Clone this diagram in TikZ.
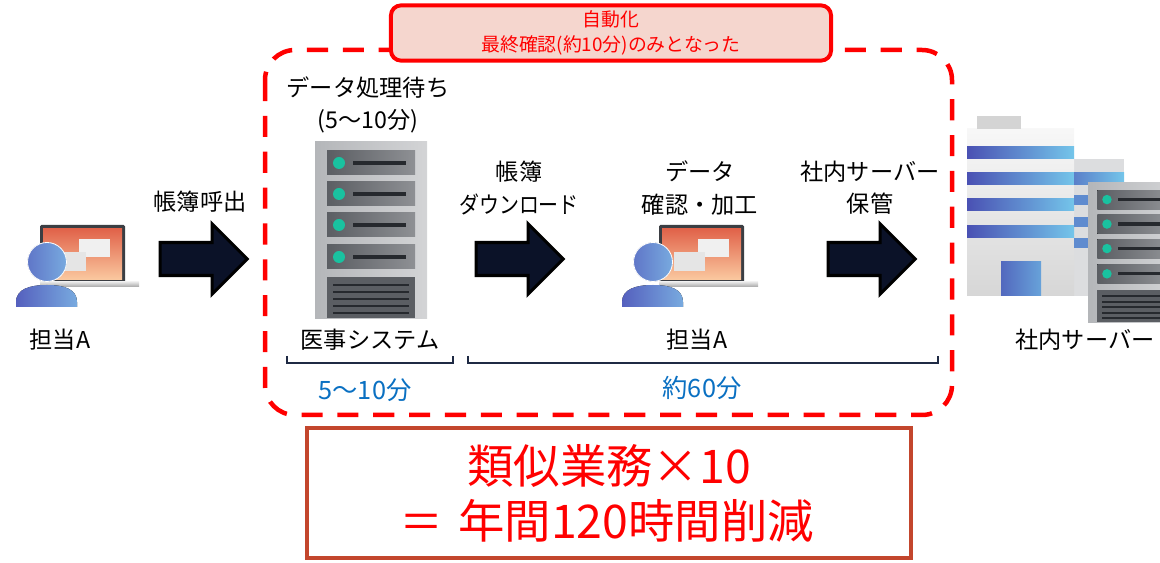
\documentclass[tikz,border=0pt]{standalone}
\usepackage{fontspec}
\setmainfont{Noto Sans CJK JP}
\usetikzlibrary{shapes.arrows, positioning}

% colours
\definecolor{zonered}{HTML}{FF0000}
\definecolor{notefill}{HTML}{F5D6CE}
\definecolor{resultedge}{HTML}{C3462D}
\definecolor{timeblue}{HTML}{0A70C2}
\definecolor{arrowfill}{HTML}{0B1228}
\definecolor{braceline}{HTML}{1F2A44}
\definecolor{rackbody}{HTML}{B4B6B9}
\definecolor{rackbodylight}{HTML}{D3D4D6}
\definecolor{rackslot}{HTML}{5B5E63}
\definecolor{rackslotlight}{HTML}{8E9094}
\definecolor{rackled}{HTML}{19C2A0}
\definecolor{rackbar}{HTML}{26292E}
\definecolor{screentop}{HTML}{E1634A}
\definecolor{screenbottom}{HTML}{FAC9A0}
\definecolor{framegray}{HTML}{3B3E43}
\definecolor{userdark}{HTML}{5560BE}
\definecolor{userlight}{HTML}{78AADF}
\definecolor{stripedark}{HTML}{4A51B3}
\definecolor{stripelight}{HTML}{74C5EA}
\definecolor{wallgray}{HTML}{DCDDDF}

\tikzset{
  % laptop with two windows on the screen
  laptop/.pic={
    \fill[framegray, rounded corners=1pt] (0,0) rectangle (85,58);
    \fill[top color=screentop, bottom color=screenbottom] (3,4) rectangle (82,55);
    \fill[top color=black!10, bottom color=black!35] (0,57) rectangle (99,62);
    \fill[black!6] (39,14) rectangle (70,32);
    \fill[black!10] (15,27) rectangle (46,46);
  },
  % person (head + shoulders)
  user/.pic={
    \fill[left color=userdark, right color=userlight]
      (-31,45) -- (-31,40) .. controls (-31,27) and (-17,23) .. (0,23)
      .. controls (17,23) and (30,27) .. (30,40) -- (30,45) -- cycle;
    \fill[left color=userdark!70!userlight, right color=userlight, draw=white, line width=0.6pt] (0,0) circle (19.5);
  },
  % server rack
  rack/.pic={
    \fill[left color=rackbody, right color=rackbodylight] (0,0) rectangle (112,177);
    \foreach \y in {9,40,71,103} {
      \fill[left color=rackslot, right color=rackslotlight] (12,\y) rectangle (100,\y+24);
      \fill[rackled] (24,\y+12) circle (6);
      \fill[rackbar] (38,\y+10) rectangle (91,\y+14);
    }
    \fill[rackslot] (12,135) rectangle (100,176);
    \foreach \y in {142,149,156,163,170}
      \fill[rackbar] (18,\y) rectangle (94,\y+2.5);
  }
}

\begin{document}
\begin{tikzpicture}[
    x=0.025cm, y=-0.025cm,
    stepname/.style={font=\fontsize{16.5}{23}\selectfont, align=center, inner sep=0pt},
    timetext/.style={font=\fontsize{18}{20}\selectfont, text=timeblue, inner sep=0pt},
    flowarrow/.style={single arrow, draw=black, line width=2.2pt, fill=arrowfill,
        minimum height=62pt, minimum width=0pt, inner sep=0pt,
        single arrow head extend=13.2pt, anchor=tail},
    zonebox/.style={draw=zonered, line width=3.2pt, dash pattern=on 15pt off 10.5pt,
        rounded corners=0.75cm},
    autobox/.style={draw=zonered, fill=notefill, line width=2.8pt, rounded corners=0.25cm,
        minimum width=11cm, minimum height=1.38cm, align=center, text=zonered,
        font=\fontsize{13.4}{17.8}\selectfont},
    resultbox/.style={draw=resultedge, fill=white, line width=3.4pt,
        minimum width=15.1cm, minimum height=3.25cm, align=center, text=zonered,
        font=\fontsize{33}{39}\selectfont},
    spanbrace/.style={draw=braceline, line width=1.4pt}
]
\useasboundingbox (0,0) rectangle (1160,563);

% automated part of the flow
\draw[zonebox] (265,50) rectangle (952,415);
\node[autobox] (autonote) at (611,33) {自動化\\最終確認(約10分)のみとなった};

% staff A at the start
\pic at (40,225) {laptop};
\pic at (47,262) {user};
\node[stepname] (staffstart) at (60,340) {担当A};

% call up the ledger
\node[flowarrow] (callarrow) at (158.5,259) {\rule{0pt}{21.3pt}};
\node[stepname] (callname) at (200,202) {帳簿呼出};

% medical system
\pic at (315,142) {rack};
\node[stepname] (waitname) at (368,105) {データ処理待ち\\(5～10分)};
\node[stepname] (medsys) at (370,340) {医事システム};

% download
\node[flowarrow] (dlarrow) at (474.5,259) {\rule{0pt}{21.3pt}};
\node[stepname] (dlname) at (519,188) {帳簿\\\scalebox{0.86}[1]{ダウンロード}};

% staff A checks the data
\pic at (659,225) {laptop};
\pic at (653,262) {user};
\node[stepname] (editname) at (700,188) {データ\\確認・加工};
\node[stepname] (staffcheck) at (697,340) {担当A};

% store on the in-house server
\node[flowarrow] (savearrow) at (826.5,259) {\rule{0pt}{21.3pt}};
\node[stepname] (savename) at (870,188) {社内サーバー\\保管};

% office building with a rack in front
\begin{scope}
  \clip (0,0) rectangle (1160,563);
  \fill[wallgray] (1074,159) rectangle (1124,296);
  \fill[top color=black!3, bottom color=black!16] (967,129) rectangle (1074,296);
  \fill[black!17] (977,116) rectangle (1021,129);
  \foreach \y in {147,173,199,226}
    \fill[left color=stripedark, right color=stripelight] (967,\y) rectangle (1074,\y+12);
  \fill[left color=stripedark!60!stripelight, right color=stripelight] (1074,173) rectangle (1124,185);
  \foreach \y in {195,217,238}
    \fill[stripedark!50!stripelight] (1074,\y) rectangle (1090,\y+10);
  \fill[left color=stripedark!80!stripelight, right color=stripelight!70!stripedark] (1001,262) rectangle (1041,296);
  \pic[scale=0.79] at (1088,183) {rack};
\end{scope}
\node[stepname] (srvname) at (1085,340) {社内サーバー};

% time spans
\draw[spanbrace] (287,356) -- (287,363) -- (453,363) -- (453,356);
\draw[spanbrace] (468,356) -- (468,363) -- (938,363) -- (938,356);
\node[timetext] (medtime) at (365,390) {5～10分};
\node[timetext] (stafftime) at (702,388) {約60分};

% result
\node[resultbox] (result) at (609,493) {類似業務×10\\\scalebox{1.4}[1]{=}\hspace{13pt}年間120時間削減};

\end{tikzpicture}
\end{document}
